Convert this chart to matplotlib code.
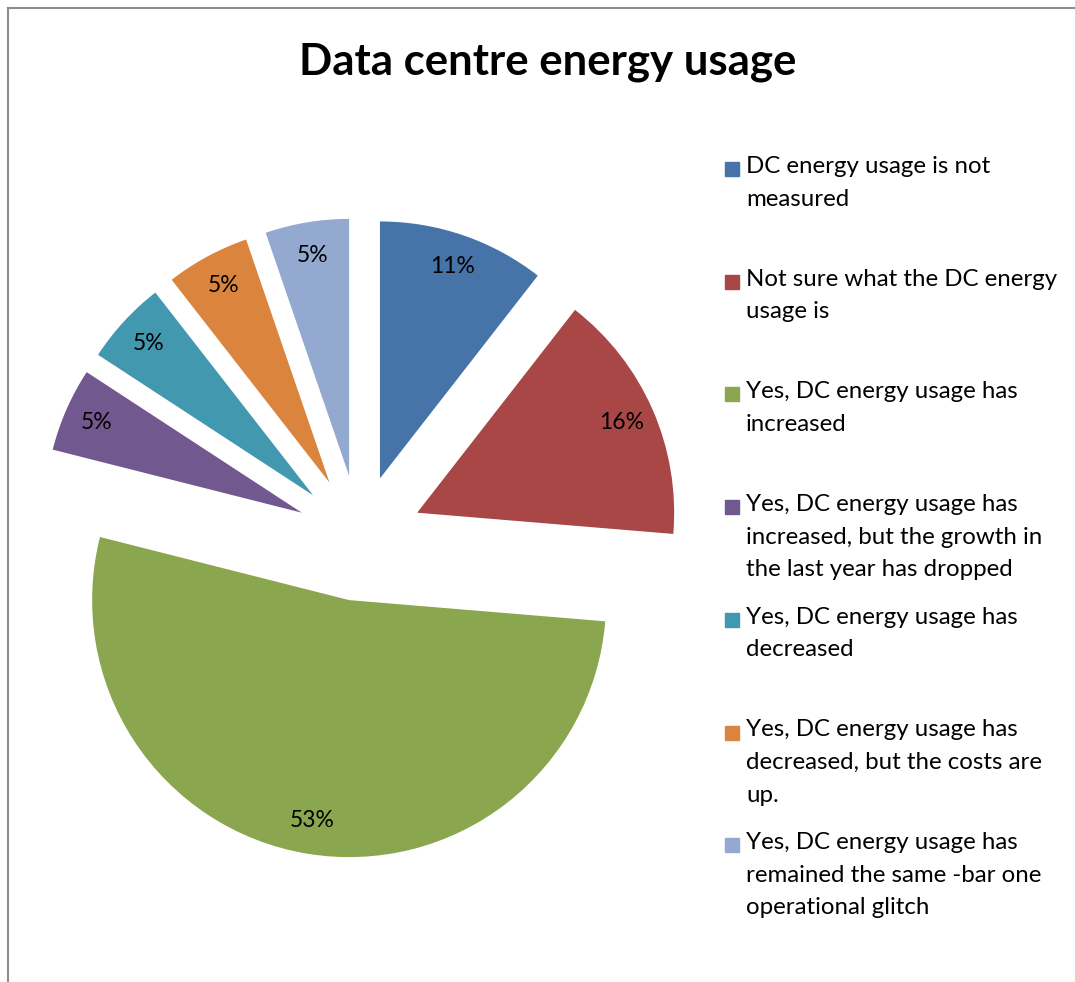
import matplotlib
matplotlib.use('Agg')
import matplotlib.pyplot as plt
from matplotlib.lines import Line2D
from matplotlib.patches import Rectangle

font = {'family': ['Lato', 'DejaVu Sans'],
        'weight': 'normal',
        'size': 15}
matplotlib.rc('font', **font)

# survey answers (counts out of 19 respondents)
labels = ['DC energy usage is not\nmeasured',
          'Not sure what the DC energy\nusage is',
          'Yes, DC energy usage has\nincreased',
          'Yes, DC energy usage has\nincreased, but the growth in\nthe last year has dropped',
          'Yes, DC energy usage has\ndecreased',
          'Yes, DC energy usage has\ndecreased, but the costs are\nup.',
          'Yes, DC energy usage has\nremained the same -bar one\noperational glitch']
counts = [2, 3, 10, 1, 1, 1, 1]
colors = ['#4674A8', '#A84746', '#8AA64E', '#71588F', '#4298AF', '#DA843E', '#93A9CF']

W, H = 1075, 982
fig = plt.figure(figsize=(W / 100, H / 100), dpi=100)

# pie axes: centre at (359.5, 538) px, radius 257 px
cx, cy, r = 359.5, 538, 257
x0, x1, ytop, ybot = 0, 720, 130, 940
ax = fig.add_axes([x0 / W, (H - ybot) / H, (x1 - x0) / W, (ybot - ytop) / H])
ax.pie(counts, colors=colors, startangle=90, counterclock=False,
       explode=[0.245] * len(counts), radius=1,
       autopct='%1.0f%%', pctdistance=0.87,
       textprops={'fontsize': 16.5, 'color': 'black'},
       wedgeprops={'linewidth': 0})
ax.set_xlim((x0 - cx) / r, (x1 - cx) / r)
ax.set_ylim((cy - ybot) / r, (cy - ytop) / r)
ax.set_aspect('auto')
ax.axis('off')

fig.text(548 / W, 1 - 62 / H, 'Data centre energy usage', ha='center', va='center',
         fontsize=31.5, fontweight='bold')

# legend, placed by hand
ly0, lstep = 169, 112.7
for i, (lab, col) in enumerate(zip(labels, colors)):
    y = ly0 + i * lstep
    fig.patches.append(Rectangle((725 / W, 1 - (y + 7) / H), 14 / W, 14 / H,
                                 transform=fig.transFigure, color=col))
    fig.text(746 / W, 1 - (y - 13) / H, lab, ha='left', va='top',
             fontsize=17.3, linespacing=1.68)

# chart border (top and left edges visible)
fig.add_artist(Line2D([8 / W, 8 / W], [0, 1 - 8 / H], transform=fig.transFigure,
                      color='#8c8c8c', lw=1.5))
fig.add_artist(Line2D([8 / W, 1], [1 - 8 / H, 1 - 8 / H], transform=fig.transFigure,
                      color='#8c8c8c', lw=1.5))

fig.savefig('out.png', dpi=100)
